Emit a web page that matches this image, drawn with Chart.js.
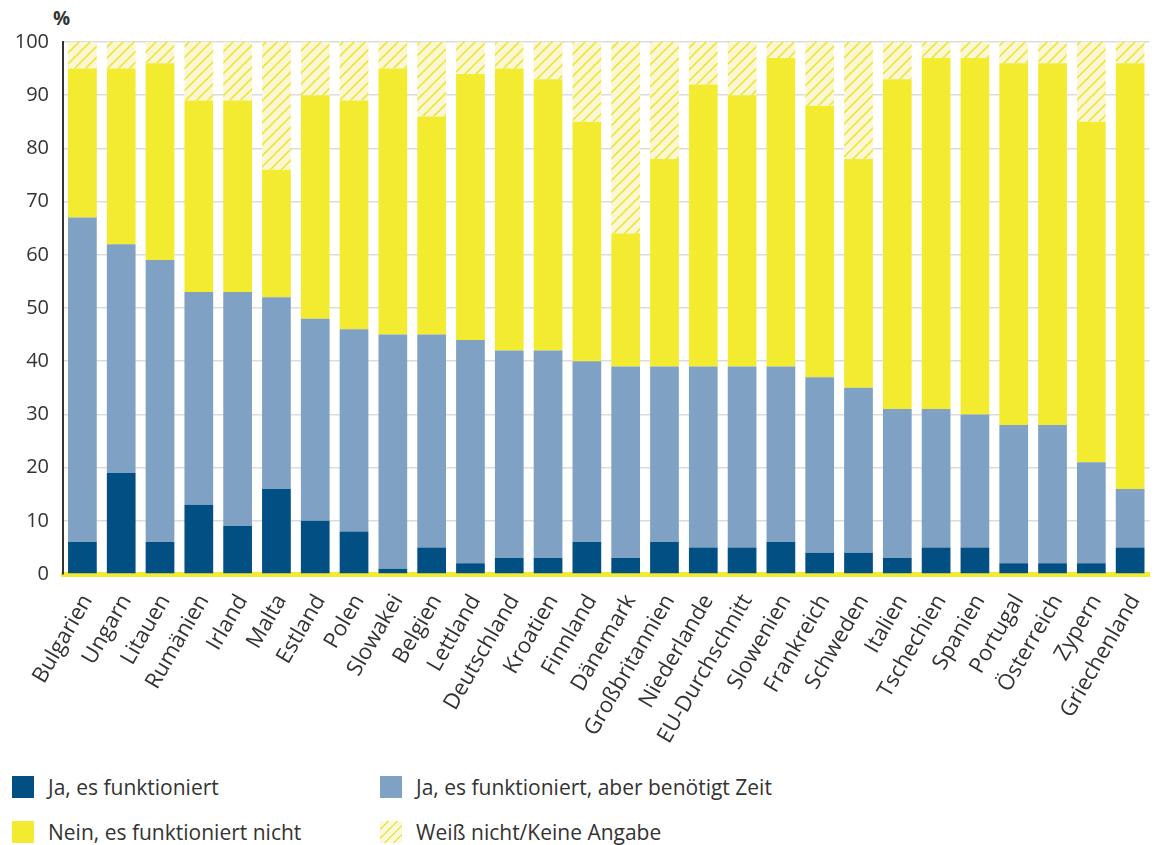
<!DOCTYPE html>
<html lang="de">
<head>
<meta charset="utf-8">
<script src="https://cdn.jsdelivr.net/npm/chart.js@4/dist/chart.umd.min.js"></script>
<style>
  html, body { margin: 0; padding: 0; background: #fff; }
  body { width: 1169px; height: 845px; position: relative; overflow: hidden; font-family: "Open Sans", sans-serif; color: #333; }
  #wrap { position: absolute; left: 0; top: 0; width: 1169px; height: 760px; }
  #unit { position: absolute; left: 53px; top: 5px; font-size: 19px; font-weight: bold; color: #333; }
  .leg { position: absolute; font-size: 21px; line-height: 24px; display: flex; align-items: center; }
  .leg .box { width: 22px; height: 22px; margin-right: 14px; display: inline-block; }
</style>
</head>
<body>
<div id="unit">%</div>
<div id="wrap"><canvas id="grafico"></canvas></div>
<div id="legende"></div>
<script>
const laender = ["Bulgarien", "Ungarn", "Litauen", "Rumänien", "Irland", "Malta", "Estland", "Polen",
  "Slowakei", "Belgien", "Lettland", "Deutschland", "Kroatien", "Finnland", "Dänemark",
  "Großbritannien", "Niederlande", "EU-Durchschnitt", "Slowenien", "Frankreich", "Schweden",
  "Italien", "Tschechien", "Spanien", "Portugal", "Österreich", "Zypern", "Griechenland"];

// Anteile in %
const jaFunktioniert = [6, 19, 6, 13, 9, 16, 10, 8, 1, 5, 2, 3, 3, 6, 3, 6, 5, 5, 6, 4, 4, 3, 5, 5, 2, 2, 2, 5];
const jaAberZeit = [61, 43, 53, 40, 44, 36, 38, 38, 44, 40, 42, 39, 39, 34, 36, 33, 34, 34, 33, 33, 31, 28, 26, 25, 26, 26, 19, 11];
const neinNicht = [28, 33, 37, 36, 36, 24, 42, 43, 50, 41, 50, 53, 51, 45, 25, 39, 53, 51, 58, 51, 43, 62, 66, 67, 68, 68, 64, 80];
const weissNicht = [5, 5, 4, 11, 11, 24, 10, 11, 5, 14, 6, 5, 7, 15, 36, 22, 8, 10, 3, 12, 22, 7, 3, 3, 4, 4, 15, 4];

const yTicks = [0, 10, 20, 30, 40, 50, 60, 70, 80, 90, 100];

const farben = {
  dunkel: "#024f83",
  hell: "#7fa1c4",
  gelb: "#f3eb2f",
  schraffurGrund: "#faf8d4",
  schraffurLinie: "#f0e43c"
};

function schraffur() {
  const s = 11;
  const c = document.createElement("canvas");
  c.width = s; c.height = s;
  const ctx = c.getContext("2d");
  ctx.fillStyle = farben.schraffurGrund;
  ctx.fillRect(0, 0, s, s);
  ctx.strokeStyle = farben.schraffurLinie;
  ctx.lineWidth = 1.6;
  ctx.beginPath();
  ctx.moveTo(0, s); ctx.lineTo(s, 0);
  ctx.moveTo(-s / 2, s / 2); ctx.lineTo(s / 2, -s / 2);
  ctx.moveTo(s / 2, s * 1.5); ctx.lineTo(s * 1.5, s / 2);
  ctx.stroke();
  return document.getElementById("grafico").getContext("2d").createPattern(c, "repeat");
}

const serien = [
  { label: "Ja, es funktioniert", data: jaFunktioniert, backgroundColor: farben.dunkel },
  { label: "Ja, es funktioniert, aber benötigt Zeit", data: jaAberZeit, backgroundColor: farben.hell },
  { label: "Nein, es funktioniert nicht", data: neinNicht, backgroundColor: farben.gelb },
  { label: "Weiß nicht/Keine Angabe", data: weissNicht, backgroundColor: schraffur() }
];

new Chart(document.getElementById("grafico"), {
  type: "bar",
  data: {
    labels: laender,
    datasets: serien.map(s => ({
      label: s.label,
      data: s.data,
      backgroundColor: s.backgroundColor,
      borderWidth: 0,
      barPercentage: 0.74,
      categoryPercentage: 1
    }))
  },
  options: {
    responsive: true,
    maintainAspectRatio: false,
    animation: false,
    layout: { padding: { top: 42, right: 0, left: 0, bottom: 0 } },
    plugins: {
      legend: { display: false },
      tooltip: { enabled: false }
    },
    scales: {
      x: {
        stacked: true,
        grid: { display: false, drawTicks: false },
        border: { color: farben.gelb, width: 5 },
        ticks: {
          autoSkip: false,
          minRotation: 60,
          maxRotation: 60,
          padding: 16,
          labelOffset: 5,
          color: "#333",
          font: { family: "Open Sans", size: 22 }
        },
        afterFit: scale => { scale.height = 186; }
      },
      y: {
        stacked: true,
        min: 0,
        max: 100,
        afterBuildTicks: scale => { scale.ticks = yTicks.map(v => ({ value: v })); },
        grid: { color: "#dcdcdc", lineWidth: 1.5, drawTicks: false },
        border: { color: "#333", width: 2 },
        ticks: {
          padding: 14,
          color: "#333",
          font: { family: "Open Sans", size: 20 }
        },
        afterFit: scale => { scale.width = 63; }
      }
    }
  }
});

// Legende
const legendePos = [
  { x: 12, y: 775 }, { x: 380, y: 775 },
  { x: 12, y: 820 }, { x: 380, y: 820 }
];
const legende = document.getElementById("legende");
serien.forEach((s, i) => {
  const d = document.createElement("div");
  d.className = "leg";
  d.style.left = legendePos[i].x + "px";
  d.style.top = legendePos[i].y + "px";
  const b = document.createElement("span");
  b.className = "box";
  if (i === 3) {
    b.style.background = "repeating-linear-gradient(135deg, #fbf9dc 0px, #fbf9dc 5px, #efe24a 5px, #efe24a 6.5px)";
  } else {
    b.style.background = s.backgroundColor;
  }
  d.appendChild(b);
  const t = document.createElement("span");
  t.textContent = s.label;
  d.appendChild(t);
  legende.appendChild(d);
});
</script>
</body>
</html>
